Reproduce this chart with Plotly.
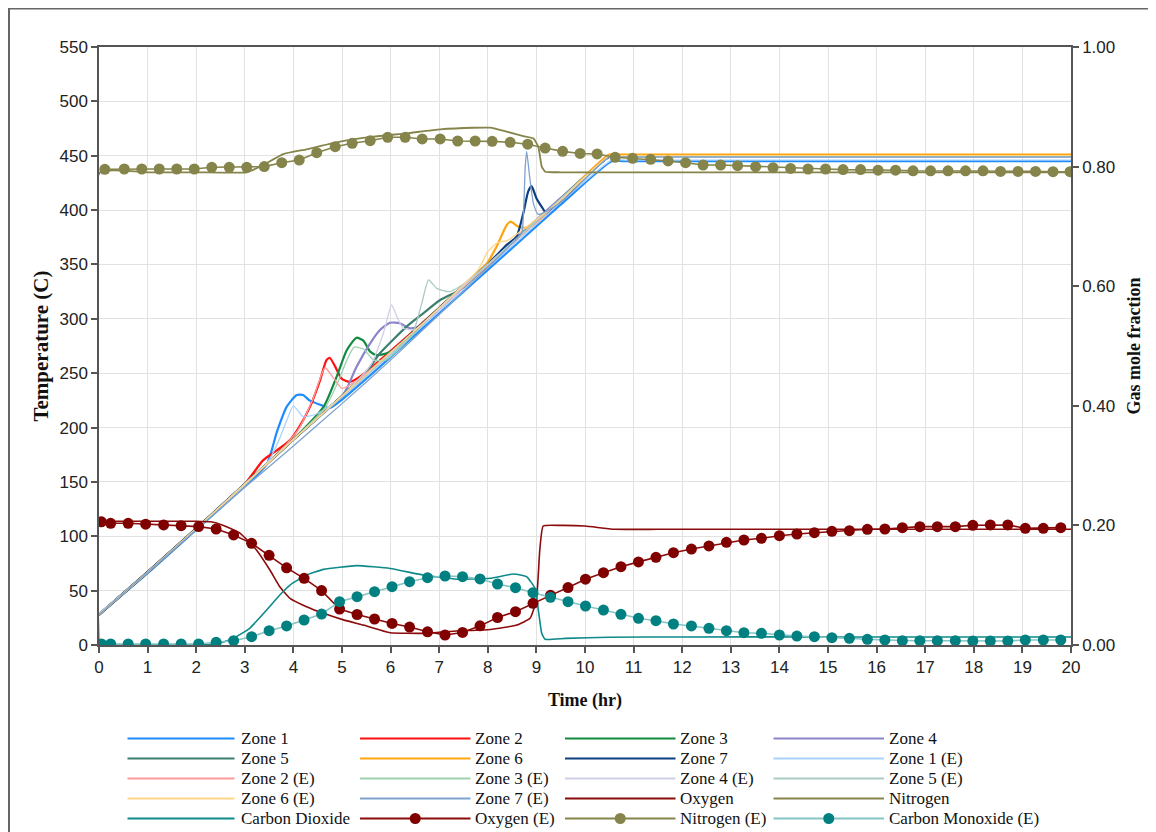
import plotly.graph_objects as go

# ---------------- Temperature data (simulated zones) ----------------
z1_t = [0, 1, 2, 3, 3.45, 3.66, 3.86, 4.07, 4.2, 4.33, 4.55, 4.75, 5.5, 6.5, 7.5, 8.5, 9.5, 10.55, 10.8, 11.5, 13, 16.5, 20]
z1_T = [28, 66, 106, 146, 166, 196, 219, 230, 230, 225, 221, 218, 245, 285, 325, 365, 405, 445, 445, 445, 445, 445, 445]

z2_t = [0, 1, 2, 3, 3.38, 3.66, 3.93, 4.14, 4.34, 4.55, 4.68, 4.75, 4.86, 4.99, 5.16, 5.37, 6.5, 7.5, 8.5, 9.5, 10.5, 10.75, 11.5, 13, 16.5, 20]
z2_T = [28, 67, 107, 148, 170, 179, 188.5, 202, 219, 243.7, 262, 264, 256, 245, 242, 246.8, 290, 330, 370, 410, 449, 449, 449, 449, 449, 449]

z3_t = [0, 1, 2, 3, 4, 4.62, 4.89, 5.1, 5.3, 5.44, 5.58, 5.71, 5.92, 6.13, 7, 8, 9, 10.5, 10.75, 11.5, 13, 16.5, 20]
z3_T = [28, 67, 107, 148, 189, 219, 246.8, 271.3, 282.6, 279.9, 269.8, 266.7, 268.3, 273, 310, 350, 390, 449, 449, 449, 449, 449, 449]

z4_t = [0, 1, 2, 3, 4, 5, 5.1, 5.3, 5.58, 5.78, 5.99, 6.19, 6.4, 6.6, 7.5, 8.5, 9.5, 10.5, 10.75, 11.5, 13, 16.5, 20]
z4_T = [28, 67, 107, 148, 189, 229, 236, 256, 277.5, 289.7, 296.4, 295.9, 291.3, 293, 331, 371, 411, 449, 449, 449, 449, 449, 449]

z5_t = [0, 1, 2, 3, 4, 5, 5.5, 5.78, 6.33, 6.67, 7.02, 7.36, 7.6, 8.5, 9.5, 10.5, 10.75, 11.5, 13, 16.5, 20]
z5_T = [28, 67, 107, 148, 189, 229, 251, 268.3, 292.8, 305, 317.3, 325, 332, 370, 410, 449, 449, 449, 449, 449, 449]

z6_t = [0, 1, 2, 3, 4, 5, 6, 7, 7.98, 8.18, 8.39, 8.47, 8.63, 8.8, 9.0, 9.21, 9.5, 10.5, 10.75, 11.5, 13, 16.5, 20]
z6_T = [28, 67, 107, 148, 189, 229, 269, 310, 351, 366.3, 386.3, 389.3, 384.7, 383.8, 387.8, 396, 409, 451, 451, 451, 451, 451, 451]

z7_t = [0, 1, 2, 3, 4, 5, 6, 7, 8, 8.39, 8.59, 8.73, 8.83, 8.9, 9.0, 9.11, 9.21, 9.5, 10.5, 10.75, 11.5, 13, 16.5, 20]
z7_T = [28, 67, 107, 148, 189, 229, 269, 310, 350, 368, 375.5, 397, 417, 422, 411, 403, 397, 408, 449, 449, 449, 449, 449, 449]

# ---------------- Temperature data (experimental zones) ----------------
z1e_t = [0, 1, 2, 3, 3.5, 3.7, 3.85, 4.0, 4.2, 4.45, 4.75, 5.5, 6.5, 7.5, 8.5, 9.5, 10.55, 10.8, 11.5, 13, 16.5, 20]
z1e_T = [29, 67, 107, 147, 170, 188, 205, 220, 210, 212, 220, 247, 287, 327, 367, 407, 446, 446, 446, 446, 446, 446]

z2e_t = [0, 1, 2, 3, 3.6, 4.1, 4.4, 4.65, 4.85, 5.0, 5.3, 6.5, 7.5, 8.5, 9.5, 10.5, 10.75, 11.5, 13, 16.5, 20]
z2e_T = [28, 67, 107, 148, 172, 198, 226, 255, 244, 236, 243, 289, 329, 369, 409, 449, 449, 449, 449, 449, 449]

z3e_t = [0, 1, 2, 3, 4, 4.65, 4.9, 5.1, 5.25, 5.45, 5.65, 5.9, 6.15, 7, 8, 9, 10.5, 10.75, 11.5, 13, 16.5, 20]
z3e_T = [28, 67, 107, 148, 189, 218, 240, 262, 274, 272, 262, 262, 271, 310, 350, 390, 449, 449, 449, 449, 449, 449]

z4e_t = [0, 1, 2, 3, 4, 5, 5.6, 5.85, 6.02, 6.13, 6.26, 6.5, 7.5, 8.5, 9.5, 10.5, 10.75, 11.5, 13, 16.5, 20]
z4e_T = [28, 67, 107, 148, 189, 229, 258, 286.7, 312.7, 302, 291.3, 290, 330, 370, 410, 449, 449, 449, 449, 449, 449]

z5e_t = [0, 1, 2, 3, 4, 5, 6, 6.45, 6.64, 6.78, 6.95, 7.22, 7.6, 8.5, 9.5, 10.5, 10.75, 11.5, 13, 16.5, 20]
z5e_T = [28, 67, 107, 148, 189, 228, 268, 286, 314, 335.7, 328, 325, 335, 370, 410, 449, 449, 449, 449, 449, 449]

z6e_t = [0, 1, 2, 3, 4, 5, 6, 7, 7.8, 8.0, 8.2, 8.4, 8.6, 8.9, 9.5, 10.5, 10.75, 11.5, 13, 16.5, 20]
z6e_T = [28, 67, 107, 148, 189, 229, 269, 310, 345, 362, 370, 372, 378, 388, 409, 450, 450, 450, 450, 450, 450]

z7e_t = [0, 1, 2, 3, 4, 5, 6, 7, 8, 8.6, 8.7, 8.77, 8.8, 8.86, 8.94, 9.04, 9.5, 10.5, 10.75, 11.5, 13, 16.5, 20]
z7e_T = [28, 67, 106, 145, 183, 222, 262, 304, 347, 374, 379, 440, 454, 431, 406, 396, 407, 449, 449, 449, 449, 449, 449]

# ---------------- Gas mole fractions (simulated) ----------------
o2_t = [0, 1, 2, 2.3, 2.56, 2.9, 3.24, 3.52, 3.72, 3.93, 4.27, 4.62, 5.03, 5.44, 5.99, 6.67, 7.36, 8.05, 8.6, 8.87, 9.0, 9.07, 9.14, 9.5, 10, 10.6, 11.5, 13, 16.5, 20]
o2_f = [0.207, 0.207, 0.207, 0.206, 0.2, 0.187, 0.159, 0.125, 0.0975, 0.078, 0.064, 0.053, 0.042, 0.0334, 0.0206, 0.0195, 0.0234, 0.026, 0.0334, 0.0446, 0.075, 0.159, 0.199, 0.2, 0.199, 0.1935, 0.1935, 0.1935, 0.1935, 0.1935]

n2_t = [0, 0.02, 1, 2, 3.04, 3.38, 3.79, 4.27, 4.96, 5.64, 6.33, 7.02, 7.7, 8.05, 8.39, 8.73, 8.94, 9.04, 9.11, 9.18, 9.5, 10.5, 12.5, 16, 20]
n2_f = [0, 0.7905, 0.7905, 0.7905, 0.7905, 0.8027, 0.821, 0.829, 0.8417, 0.85, 0.8557, 0.8623, 0.865, 0.865, 0.8584, 0.851, 0.847, 0.833, 0.80, 0.7915, 0.7905, 0.7905, 0.7905, 0.7905, 0.7905]

co2_t = [0, 1, 2, 2.42, 2.76, 3.1, 3.45, 3.72, 3.93, 4.27, 4.62, 5.3, 5.99, 6.67, 7.36, 8.05, 8.53, 8.8, 8.97, 9.04, 9.11, 9.18, 9.6, 10.5, 12, 15, 20]
co2_f = [0, 0, 0, 0.0017, 0.011, 0.028, 0.0585, 0.0836, 0.1003, 0.117, 0.1265, 0.1327, 0.128, 0.117, 0.110, 0.1115, 0.1187, 0.1142, 0.0948, 0.0585, 0.0195, 0.0095, 0.011, 0.013, 0.0135, 0.0135, 0.0135]

# ---------------- Gas mole fractions (experimental) ----------------
e_t = [0.05, 0.24, 0.60, 0.96, 1.33, 1.69, 2.05, 2.41, 2.77, 3.14, 3.50, 3.86, 4.22, 4.58, 4.95, 5.31,
       5.67, 6.03, 6.39, 6.76, 7.12, 7.48, 7.84, 8.20, 8.57, 8.93, 9.29, 9.65, 10.01, 10.38, 10.74,
       11.10, 11.46, 11.82, 12.19, 12.55, 12.91, 13.27, 13.63, 14.00, 14.36, 14.72, 15.08, 15.44,
       15.81, 16.17, 16.53, 16.89, 17.25, 17.62, 17.98, 18.34, 18.70, 19.06, 19.43, 19.79]
o2e_f = [0.206, 0.2035, 0.2035, 0.202, 0.2007, 0.1996, 0.198, 0.194, 0.184, 0.170, 0.150, 0.129, 0.1115,
         0.091, 0.060, 0.051, 0.0435, 0.036, 0.030, 0.022, 0.0167, 0.021, 0.032, 0.046, 0.0557, 0.0697,
         0.083, 0.096, 0.110, 0.121, 0.131, 0.139, 0.1466, 0.1543, 0.1605, 0.1656, 0.1717, 0.1756,
         0.1784, 0.1828, 0.1856, 0.1878, 0.1901, 0.1912, 0.1935, 0.194, 0.1962, 0.1979, 0.1979, 0.1979,
         0.2002, 0.2007, 0.2007, 0.1951, 0.1951, 0.1962]
coe_f = [0.0017, 0.0017, 0.0017, 0.0017, 0.0017, 0.0017, 0.0017, 0.0045, 0.0072, 0.0139, 0.0239, 0.0318,
         0.0418, 0.0518, 0.0724, 0.0808, 0.0892, 0.0975, 0.1059, 0.1126, 0.1154, 0.1143, 0.1104, 0.102,
         0.0958, 0.0875, 0.0798, 0.0724, 0.0652, 0.0585, 0.0513, 0.0446, 0.0406, 0.0351, 0.0318, 0.0279,
         0.0239, 0.0206, 0.0196, 0.0167, 0.015, 0.0139, 0.0122, 0.0111, 0.0095, 0.0084, 0.0072, 0.0072,
         0.0072, 0.0072, 0.0067, 0.0067, 0.0067, 0.0084, 0.0084, 0.0084]

n2e_t = [0.12, 0.52, 0.88, 1.24, 1.60, 1.96, 2.32, 2.68, 3.04, 3.40, 3.76, 4.12, 4.48, 4.86, 5.21, 5.58,
         5.94, 6.30, 6.65, 7.02, 7.38, 7.74, 8.09, 8.46, 8.82, 9.18, 9.54, 9.90, 10.25, 10.62, 10.98,
         11.35, 11.71, 12.07, 12.43, 12.79, 13.14, 13.51, 13.87, 14.23, 14.59, 14.95, 15.31, 15.67,
         16.03, 16.39, 16.75, 17.11, 17.47, 17.83, 18.19, 18.55, 18.91, 19.27, 19.63, 19.98]
n2e_f = [0.7955, 0.796, 0.796, 0.796, 0.796, 0.796, 0.7988, 0.7988, 0.7988, 0.80, 0.8065, 0.811, 0.8233,
         0.8333, 0.839, 0.8433, 0.849, 0.849, 0.8462, 0.8462, 0.8428, 0.8428, 0.8422, 0.8406, 0.8375,
         0.831, 0.8255, 0.822, 0.8211, 0.8155, 0.8139, 0.8122, 0.8094, 0.8065, 0.8027, 0.8027, 0.8016,
         0.7999, 0.7982, 0.797, 0.796, 0.796, 0.795, 0.795, 0.794, 0.794, 0.793, 0.793, 0.793, 0.793,
         0.793, 0.792, 0.792, 0.792, 0.7915, 0.7915]

# ---------------- Styling ----------------
SERIF = "Liberation Serif, Times New Roman, serif"
SANS = "Liberation Sans, Arial, sans-serif"

# plot area in page pixels (page has an 8px body margin)
PX0, PX1, PY0, PY1 = 99.0, 1071.0, 47.0, 645.0
PW, PH = PX1 - PX0, PY1 - PY0


def px_to_paper_x(px):
    return (px - PX0) / PW


def px_to_paper_y(py):
    return (PY1 - py) / PH


fig = go.Figure()

# name, x, y, axis, line colour, line width, marker colour (None = lines only), smoothing
series = [
    ("Zone 1", z1_t, z1_T, "y", "#1e8cff", 2.2, None, 0.6),
    ("Zone 2", z2_t, z2_T, "y", "#ff1010", 2.2, None, 0.6),
    ("Zone 3", z3_t, z3_T, "y", "#128a3e", 2.2, None, 0.6),
    ("Zone 4", z4_t, z4_T, "y", "#8a84c8", 2.2, None, 0.6),
    ("Zone 5", z5_t, z5_T, "y", "#3d7f6e", 2.2, None, 0.6),
    ("Zone 6", z6_t, z6_T, "y", "#ffa510", 2.2, None, 0.6),
    ("Zone 7", z7_t, z7_T, "y", "#0d3f80", 2.2, None, 0.6),
    ("Zone 1 (E)", z1e_t, z1e_T, "y", "#a8d2ff", 1.3, None, 0.5),
    ("Zone 2 (E)", z2e_t, z2e_T, "y", "#ff9a9a", 1.3, None, 0.5),
    ("Zone 3 (E)", z3e_t, z3e_T, "y", "#9fd0b0", 1.3, None, 0.5),
    ("Zone 4 (E)", z4e_t, z4e_T, "y", "#cfcfea", 1.3, None, 0.5),
    ("Zone 5 (E)", z5e_t, z5e_T, "y", "#a9ccc5", 1.3, None, 0.5),
    ("Zone 6 (E)", z6e_t, z6e_T, "y", "#ffd58a", 1.3, None, 0.5),
    ("Zone 7 (E)", z7e_t, z7e_T, "y", "#7ea2cc", 1.3, None, 0.5),
    ("Oxygen", o2_t, o2_f, "y2", "#8b0a0a", 1.6, None, 0.4),
    ("Nitrogen", n2_t, n2_f, "y2", "#85844a", 1.8, None, 0.4),
    ("Carbon Dioxide", co2_t, co2_f, "y2", "#0f8a8a", 1.6, None, 0.4),
    ("Oxygen (E)", e_t, o2e_f, "y2", "#8b0a0a", 1.6, "#800000", 0),
    ("Nitrogen (E)", n2e_t, n2e_f, "y2", "#85844a", 1.6, "#85844a", 0),
    ("Carbon Monoxide (E)", e_t, coe_f, "y2", "#86c4c4", 1.6, "#008080", 0),
]

for name, x, y, ax, col, w, mcol, sm in series:
    line = dict(color=col, width=w)
    if sm > 0:
        line.update(shape="spline", smoothing=sm)
    if mcol is None:
        fig.add_trace(go.Scatter(x=x, y=y, mode="lines", name=name, yaxis=ax,
                                 line=line, showlegend=False))
    else:
        fig.add_trace(go.Scatter(x=x, y=y, mode="lines+markers", name=name, yaxis=ax,
                                 line=line, marker=dict(color=mcol, size=11), showlegend=False))

# ---------------- Legend (4 columns x 5 rows, long line swatches) ----------------
leg_line_x = [(127.5, 234.5), (360.0, 470.5), (565.0, 675.5), (773.5, 884.0)]
leg_text_x = [239.0, 473.0, 677.5, 887.0]
leg_row_y = [738.5, 758.5, 778.5, 798.5, 818.5]

shapes = [dict(type="rect", xref="paper", yref="paper",
               x0=px_to_paper_x(9), x1=1.3, y0=-0.6, y1=px_to_paper_y(8.5),
               line=dict(color="#666666", width=2), layer="below")]
annotations = []
mr = 5.5
for i, (name, x, y, ax, col, w, mcol, sm) in enumerate(series):
    r, c = divmod(i, 4)
    yy = px_to_paper_y(leg_row_y[r])
    xa, xb = leg_line_x[c]
    shapes.append(dict(type="line", xref="paper", yref="paper",
                       x0=px_to_paper_x(xa), x1=px_to_paper_x(xb), y0=yy, y1=yy,
                       line=dict(color=col, width=max(w, 2.0))))
    if mcol is not None:
        xm = (xa + xb) / 2
        ym = leg_row_y[r]
        shapes.append(dict(type="circle", xref="paper", yref="paper",
                           x0=px_to_paper_x(xm - mr), x1=px_to_paper_x(xm + mr),
                           y0=px_to_paper_y(ym + mr), y1=px_to_paper_y(ym - mr),
                           fillcolor=mcol, line=dict(color=mcol, width=0)))
    annotations.append(dict(text=name, xref="paper", yref="paper",
                            x=px_to_paper_x(leg_text_x[c]), y=yy,
                            xanchor="left", yanchor="middle", showarrow=False,
                            font=dict(family=SERIF, size=17, color="#111111")))

axis_common = dict(showline=True, linecolor="#555555", linewidth=1.5,
                   ticks="outside", ticklen=6, tickcolor="#555555", tickwidth=1.5,
                   tickfont=dict(family=SANS, size=17, color="#222222"),
                   zeroline=False, automargin=False)

FIG_W, FIG_H = 1148, 824   # page body margin of 8px brings it to 1156x832
fig.update_layout(
    width=FIG_W, height=FIG_H,
    margin=dict(l=PX0 - 8, r=FIG_W - (PX1 - 8), t=PY0 - 8, b=FIG_H - (PY1 - 8), autoexpand=False),
    paper_bgcolor="white", plot_bgcolor="white",
    showlegend=False,
    xaxis=dict(range=[0, 20], dtick=1, tick0=0, mirror=True,
               showgrid=True, gridcolor="#e2e2e2", gridwidth=1.3,
               title=dict(text="<b>Time (hr)</b>", font=dict(family=SERIF, size=18, color="#111"),
                          standoff=17),
               **axis_common),
    yaxis=dict(range=[0, 550], dtick=50, tick0=0,
               showgrid=True, gridcolor="#e2e2e2", gridwidth=1.3,
               title=dict(text="<b>Temperature (C)</b>", font=dict(family=SERIF, size=21, color="#111"),
                          standoff=5),
               **axis_common),
    yaxis2=dict(range=[0, 1], dtick=0.2, tick0=0, tickformat=".2f",
                overlaying="y", side="right", showgrid=False,
                title=dict(text="<b>Gas mole fraction</b>", font=dict(family=SERIF, size=18, color="#111"),
                           standoff=13),
                **axis_common),
    shapes=shapes,
    annotations=annotations,
)

fig.write_html("out.html")
